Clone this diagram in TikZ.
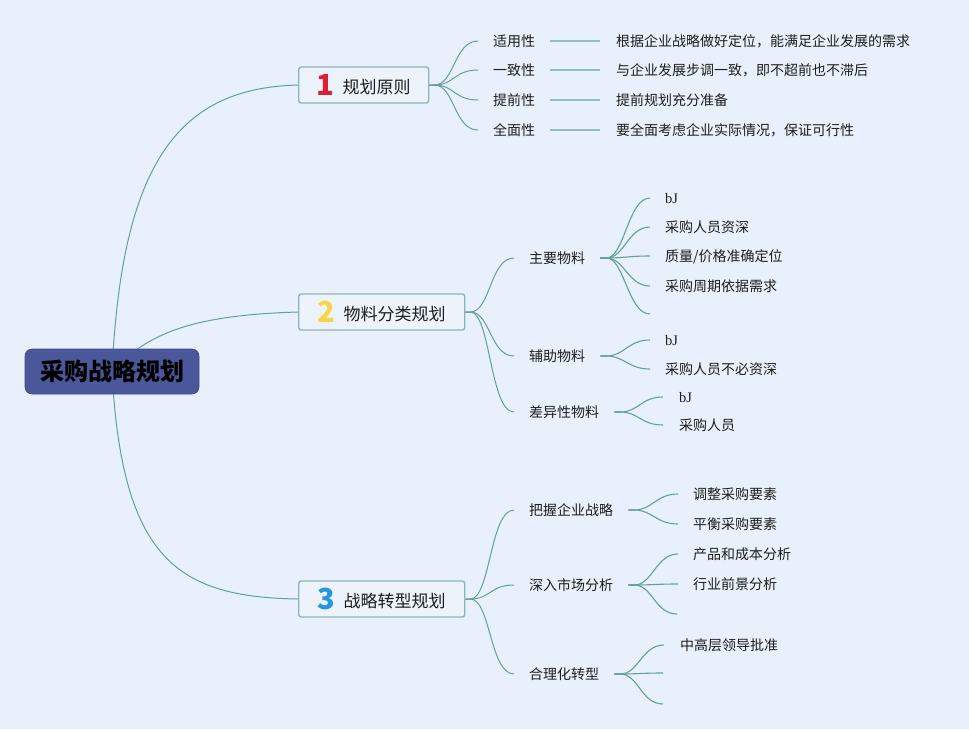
\documentclass[tikz,border=0pt]{standalone}
\usepackage{fontspec}
\newfontfamily\cjk{Noto Sans CJK SC}
\newfontfamily\serf{Liberation Serif}
\definecolor{bgc}{RGB}{232,240,251}
\definecolor{rootc}{RGB}{74,88,154}
\definecolor{boxfill}{RGB}{236,243,250}
\definecolor{boxline}{RGB}{143,180,184}
\definecolor{linec}{RGB}{102,158,156}
\definecolor{stubc}{RGB}{150,188,190}
\definecolor{textc}{RGB}{30,30,30}
\definecolor{numred}{RGB}{222,30,56}
\definecolor{numyel}{RGB}{246,214,72}
\definecolor{numblu}{RGB}{40,150,222}
\pgfdeclarelayer{bg}\pgfdeclarelayer{edges}\pgfsetlayers{bg,edges,main}
\newcommand\numtag[2]{\raisebox{-2pt}{\textcolor{#1}{\cjk\bfseries\fontsize{29}{29}\selectfont #2}}\hspace{8pt}}
\begin{document}
\begin{tikzpicture}[x=1pt,y=-1pt,
  txt/.style={anchor=west, inner sep=0pt, font=\cjk\fontsize{14}{16}\selectfont, text=textc, text height=12.3pt, text depth=1.7pt},
  bj/.style={txt, font=\serf\fontsize{14.5}{16}\selectfont},
  rootbox/.style={fill=rootc, draw=rootc!85!black, line width=0.6pt, rounded corners=7pt, minimum width=174pt, minimum height=45pt, inner sep=0pt, font=\cjk\bfseries\fontsize{24}{26}\selectfont, text=black},
  topicbox/.style={anchor=west, fill=boxfill, draw=boxline, line width=1.4pt, rounded corners=2.5pt, minimum height=36pt, inner sep=0pt, font=\cjk\fontsize{17}{19}\selectfont, text=textc},
  ln/.style={draw=linec, line width=1pt},
  ln2/.style={draw=linec, line width=1.1pt},
  stub/.style={draw=stubc, line width=1.4pt}
]
\begin{pgfonlayer}{bg}
\fill[bgc] (0,0) rectangle (969,729);
\end{pgfonlayer}
\useasboundingbox (0,0) rectangle (969,729);

% root
\node[rootbox] (root) at (112,371.5) {采购战略规划};

% main topics
\node[topicbox, minimum width=130pt] (b1) at (298,85) {\numtag{numred}{1}规划原则};
\node[topicbox, minimum width=166pt] (b2) at (298,312) {\numtag{numyel}{2}物料分类规划};
\node[topicbox, minimum width=166pt] (b3) at (298,599) {\numtag{numblu}{3}战略转型规划};

% branch 1
\node[txt] (a1) at (493,41) {适用性};
\node[txt] (a2) at (493,70) {一致性};
\node[txt] (a3) at (493,100) {提前性};
\node[txt] (a4) at (493,130) {全面性};
\node[txt] (d1) at (616,41) {根据企业战略做好定位，能满足企业发展的需求};
\node[txt] (d2) at (616,70) {与企业发展步调一致，即不超前也不滞后};
\node[txt] (d3) at (616,100) {提前规划充分准备};
\node[txt] (d4) at (616,130) {要全面考虑企业实际情况，保证可行性};

% branch 2
\node[txt] (m1) at (529,258) {主要物料};
\node[txt] (m2) at (529,356) {辅助物料};
\node[txt] (m3) at (529,412) {差异性物料};
\node[bj]  (m11) at (665,198) {bJ};
\node[txt] (m12) at (665,227) {采购人员资深};
\node[txt] (m13) at (665,256) {质量/价格准确定位};
\node[txt] (m14) at (665,286) {采购周期依据需求};
\coordinate (m15) at (650,314);
\node[bj]  (m21) at (665,340) {bJ};
\node[txt] (m22) at (665,369) {采购人员不必资深};
\node[bj]  (m31) at (679,397) {bJ};
\node[txt] (m32) at (679,425) {采购人员};

% branch 3
\node[txt] (n1) at (529,510) {把握企业战略};
\node[txt] (n2) at (529,585) {深入市场分析};
\node[txt] (n3) at (529,674) {合理化转型};
\node[txt] (n11) at (693,494) {调整采购要素};
\node[txt] (n12) at (693,524) {平衡采购要素};
\node[txt] (n21) at (693,554) {产品和成本分析};
\node[txt] (n22) at (693,584) {行业前景分析};
\coordinate (n23) at (677,614);
\node[txt] (n31) at (680,645) {中高层领导批准};
\coordinate (n32) at (663,673);
\coordinate (n33) at (663,704);

\begin{pgfonlayer}{edges}
% root to topics
\draw[ln] (root.center) .. controls (122,160) and (180,88) .. (b1.west);
\draw[ln] (root.center) .. controls (150,330) and (200,315) .. (b2.west);
\draw[ln] (root.center) .. controls (122,560) and (178,597) .. (b3.west);

% topic to subtopics
\foreach \t in {a1,a2,a3,a4}
  \draw[ln] (b1.east) -- ++(5,0) .. controls +(20,0) and +(-24,0) .. ([xshift=-15pt]\t.west);
\foreach \t in {m1,m2,m3}
  \draw[ln] (b2.east) -- ++(5,0) .. controls +(20,0) and +(-24,0) .. ([xshift=-15pt]\t.west);
\foreach \t in {n1,n2,n3}
  \draw[ln] (b3.east) -- ++(5,0) .. controls +(20,0) and +(-24,0) .. ([xshift=-15pt]\t.west);

% detail stubs
\draw[stub] ([xshift=15pt]a1.east) -- ([xshift=-16pt]d1.west);
\draw[stub] ([xshift=15pt]a2.east) -- ([xshift=-16pt]d2.west);
\draw[stub] ([xshift=15pt]a3.east) -- ([xshift=-16pt]d3.west);
\draw[stub] ([xshift=15pt]a4.east) -- ([xshift=-16pt]d4.west);

% subtopic to leaves
\foreach \t in {m11,m12,m13,m14}
  \draw[ln2] ([xshift=15pt]m1.east) -- ++(6,0) .. controls +(18,0) and +(-22,0) .. ([xshift=-15pt]\t.west);
\draw[ln2] ([xshift=15pt]m1.east) -- ++(6,0) .. controls +(18,0) and +(-22,0) .. (m15);
\foreach \t in {m21,m22}
  \draw[ln2] ([xshift=15pt]m2.east) -- ++(6,0) .. controls +(18,0) and +(-22,0) .. ([xshift=-15pt]\t.west);
\foreach \t in {m31,m32}
  \draw[ln2] ([xshift=15pt]m3.east) -- ++(6,0) .. controls +(18,0) and +(-22,0) .. ([xshift=-16pt]\t.west);
\foreach \t in {n11,n12}
  \draw[ln2] ([xshift=15pt]n1.east) -- ++(6,0) .. controls +(18,0) and +(-22,0) .. ([xshift=-15pt]\t.west);
\foreach \t in {n21,n22}
  \draw[ln2] ([xshift=15pt]n2.east) -- ++(6,0) .. controls +(18,0) and +(-22,0) .. ([xshift=-15pt]\t.west);
\draw[ln2] ([xshift=15pt]n2.east) -- ++(6,0) .. controls +(18,0) and +(-22,0) .. (n23);
\draw[ln2] ([xshift=15pt]n3.east) -- ++(6,0) .. controls +(18,0) and +(-22,0) .. ([xshift=-16pt]n31.west);
\draw[ln2] ([xshift=15pt]n3.east) -- ++(6,0) .. controls +(18,0) and +(-22,0) .. (n32);
\draw[ln2] ([xshift=15pt]n3.east) -- ++(6,0) .. controls +(18,0) and +(-22,0) .. (n33);
\end{pgfonlayer}
\end{tikzpicture}
\end{document}
